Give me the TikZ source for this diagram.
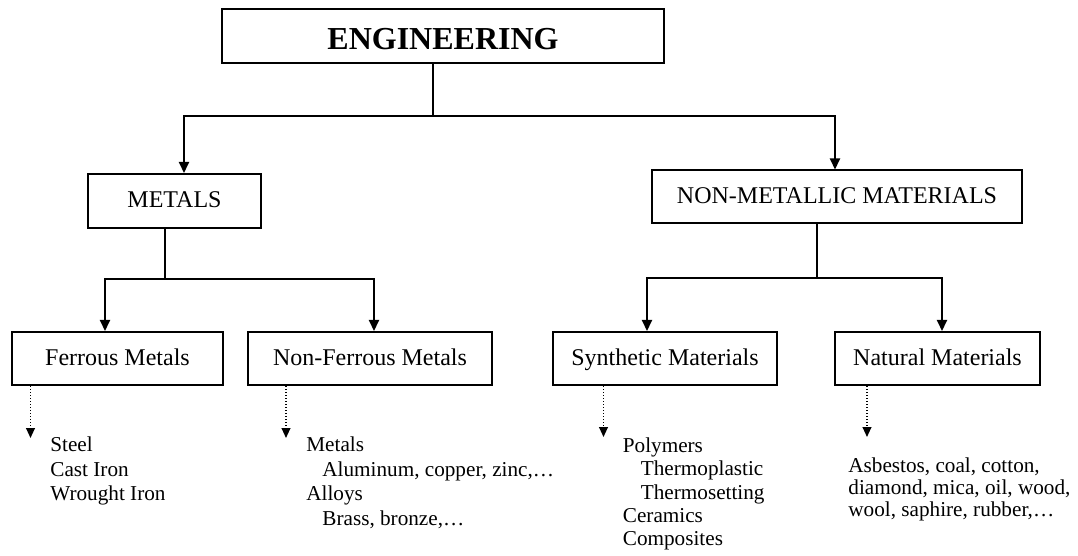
\documentclass[tikz,border=0pt]{standalone}
\usepackage{fontspec}
\setmainfont{Liberation Serif}
\usepackage{tikz}
\usetikzlibrary{arrows.meta}
\tikzstyle{block} = [rectangle, sharp corners, draw, line width=1pt,
                     text centered, inner sep=0pt, text height=7pt, text depth=0.5pt,
                     font=\fontsize{12}{14}\selectfont]
\tikzstyle{block1} = [block, minimum height=27pt]
\tikzstyle{block2} = [block, minimum height=26.5pt]
\tikzstyle{items} = [anchor=north west, inner sep=0pt, align=left]

\begin{document}
\begin{tikzpicture}[x=0.5pt, y=-0.5pt,
arr/.style={line width=1pt, -{Triangle[width=5pt,length=5.5pt]}},
dotarr/.style={line width=0.8pt, dash pattern=on 0.7pt off 0.8pt, -{Triangle[width=4.4pt,length=5pt]}},
line/.style={line width=1pt}]
\useasboundingbox (0,0) rectangle (1078,556);
%Top
\node [block, minimum width=221pt, minimum height=27pt, text height=14pt, text depth=0pt,
       font=\fontsize{16}{18}\bfseries] at (443,36) (eng){ENGINEERING};

%Metals
\node [block1, minimum width=86.5pt] at (174.5,201) (metals){METALS};
\node [block2, minimum width=185pt] at (837,197) (nonmetal){NON-METALLIC MATERIALS};

%Kinds
\node [block2, minimum width=105.5pt] at (117.5,358.5) (ferrous){Ferrous Metals};
\node [block2, minimum width=122pt] at (370,358.5) (nonferrous){Non-Ferrous Metals};
\node [block2, minimum width=112pt] at (665,358.5) (synth){Synthetic Materials};
\node [block2, minimum width=102.5pt] at (937.5,358.5) (natural){Natural Materials};

% joints
\coordinate (j0) at (433,116);
\coordinate (j1) at (165,279);
\coordinate (j2) at (817,278);
\draw[line] (eng.south -| j0) -- (j0);
\draw[arr] (j0) -| ([xshift=4.75pt]metals.north);
\draw[arr] (j0) -| ([xshift=-1pt]nonmetal.north);
\draw[line] (metals.south -| j1) -- (j1);
\draw[arr] (j1) -| ([xshift=-6.25pt]ferrous.north);
\draw[arr] (j1) -| ([xshift=2pt]nonferrous.north);
\draw[line] (nonmetal.south -| j2) -- (j2);
\draw[arr] (j2) -| ([xshift=-9pt]synth.north);
\draw[arr] (j2) -| ([xshift=2.25pt]natural.north);

% Examples
\node [items, font=\fontsize{10.6}{12.25}\selectfont] at (50,436.5) (ferrouslist){Steel\\Cast Iron\\Wrought Iron};
\node [items, font=\fontsize{10.6}{12.25}\selectfont] at (306,436.5) (nonferrouslist){Metals\\\hspace*{8pt}Aluminum, copper, zinc,\ldots\\Alloys\\\hspace*{8pt}Brass, bronze,\ldots};
\node [items, font=\fontsize{10.6}{11.65}\selectfont] at (622.5,437.5) (synthlist){Polymers\\\hspace*{9pt}Thermoplastic\\\hspace*{9pt}Thermosetting\\Ceramics\\Composites};
\node [items, font=\fontsize{10.6}{11}\selectfont] at (848,457.5) (naturallist){Asbestos, coal, cotton,\\diamond, mica, oil, wood,\\wool, saphire, rubber,\ldots};

\coordinate (ferroustip) at (30.5,438);
\coordinate (nonferroustip) at (286,438);
\coordinate (synthtip) at (603.5,437);
\coordinate (naturaltip) at (867,437);
\draw[dotarr] (ferrous.south -| ferroustip) -- (ferroustip);
\draw[dotarr] (nonferrous.south -| nonferroustip) -- (nonferroustip);
\draw[dotarr] (synth.south -| synthtip) -- (synthtip);
\draw[dotarr] (natural.south -| naturaltip) -- (naturaltip);
\end{tikzpicture}
\end{document}
